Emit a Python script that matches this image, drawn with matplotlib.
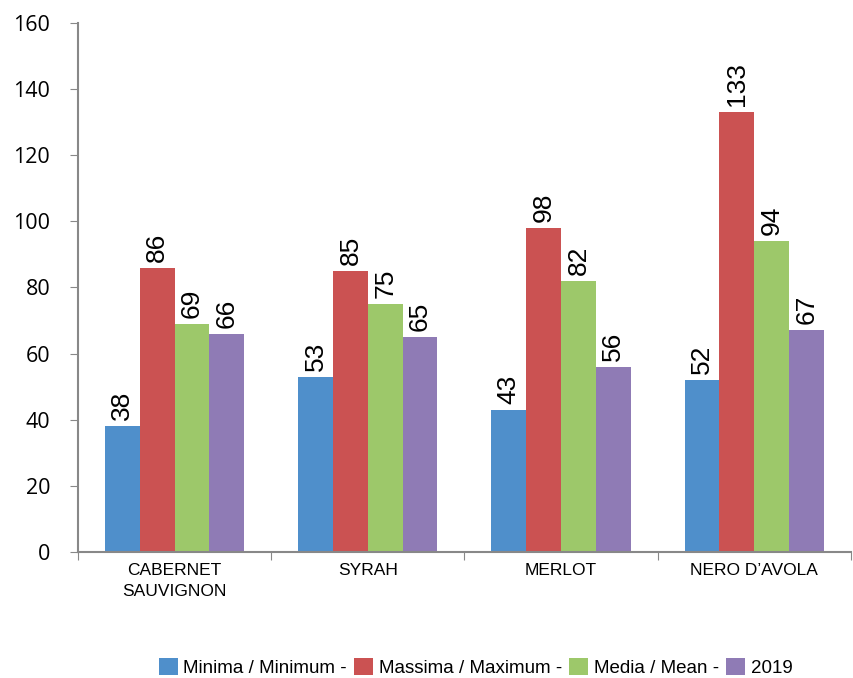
import numpy as np
import matplotlib.pyplot as plt
from matplotlib import font_manager as fm

# dati
varieta = ["CABERNET\nSAUVIGNON", "SYRAH", "MERLOT", "NERO D\u2019AVOLA"]
serie = ["Minima / Minimum -", "Massima / Maximum -", "Media / Mean -", "2019"]
minima = [38, 53, 43, 52]
massima = [86, 85, 98, 133]
media = [69, 75, 82, 94]
anno_2019 = [66, 65, 56, 67]
colori = ["#4f8fcb", "#cb5252", "#9dc86a", "#8f7bb5"]

narrow = ["Liberation Sans Narrow", "Liberation Sans", "DejaVu Sans"]
nomi = {f.name for f in fm.fontManager.ttflist}
if "Liberation Sans Narrow" not in nomi:
    narrow = ["Liberation Sans", "DejaVu Sans"]

fig = plt.figure(figsize=(8.54, 6.78), dpi=100)
ax = fig.add_axes([0.0913, 0.186, 0.905, 0.780])

x = np.arange(len(varieta))
w = 0.18
valori = [minima, massima, media, anno_2019]
for i, (vals, nome, col) in enumerate(zip(valori, serie, colori)):
    pos = x + (i - 1.5) * w
    ax.bar(pos, vals, width=w, color=col, label=nome)
    for p, v in zip(pos, vals):
        ax.text(p, v + 1.8, str(v), rotation=90, ha="center", va="bottom",
                fontsize=19, family=narrow)

ax.set_xlim(-0.5, 3.5)
ax.set_ylim(0, 160)
ax.set_yticks(range(0, 161, 20))
ax.tick_params(axis="y", labelsize=15.5, direction="out", length=6, color="#888888",
               pad=14)
ax.set_xticks([-0.5, 0.5, 1.5, 2.5, 3.5])
ax.set_xticklabels([])
ax.set_xticks(x, minor=True)
ax.set_xticklabels(varieta, minor=True, family=narrow, fontsize=12.5, linespacing=1.5)
ax.tick_params(axis="x", which="major", direction="out", length=6, color="#888888")
ax.tick_params(axis="x", which="minor", length=0, pad=8)
for lab in ax.get_yticklabels():
    lab.set_family(["Open Sans", "DejaVu Sans"])

for s in ["top", "right"]:
    ax.spines[s].set_visible(False)
for s in ["left", "bottom"]:
    ax.spines[s].set_color("#888888")
    ax.spines[s].set_linewidth(1.5)

fig.legend(loc="center", bbox_to_anchor=(0.557, 0.016), ncol=4, frameon=False,
           prop={"family": narrow, "size": 13.5}, handlelength=1.0, handleheight=1.0,
           handletextpad=0.3, columnspacing=0.4)

fig.savefig("out.png", dpi=100)
